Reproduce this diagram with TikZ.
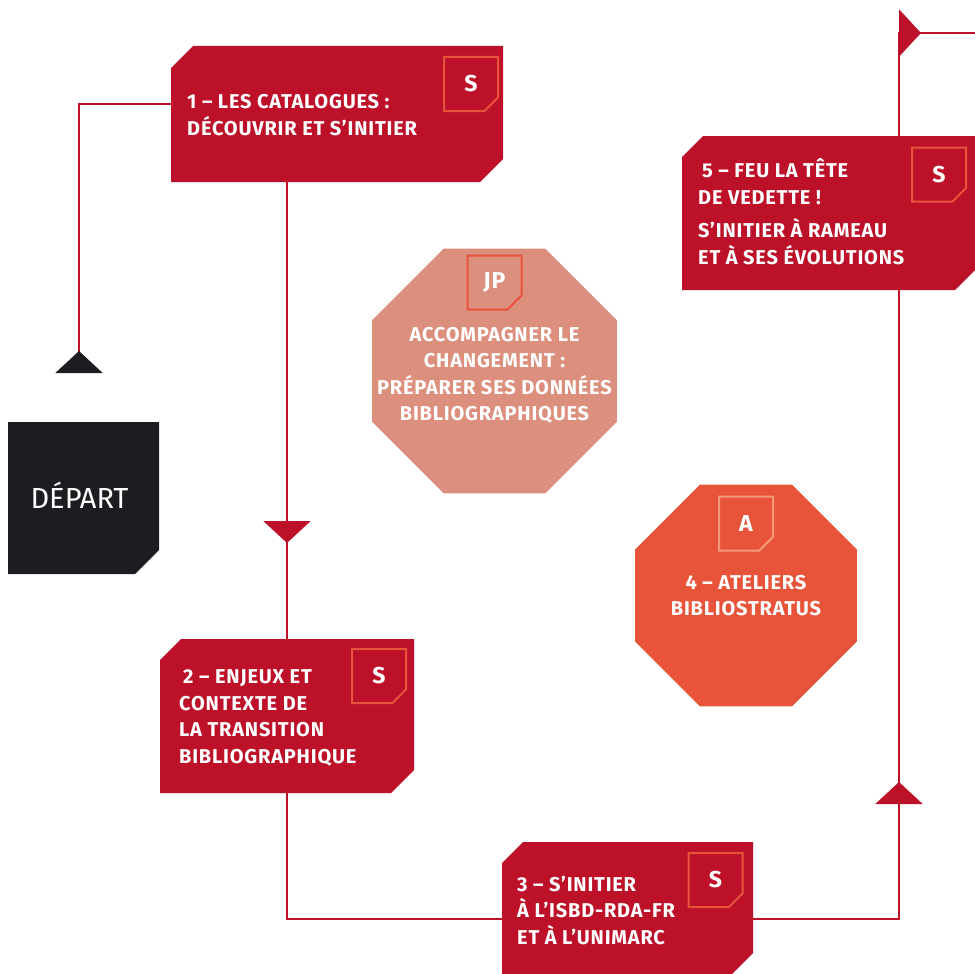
\documentclass[tikz,border=0pt]{standalone}
\usepackage{fontspec}
\setmainfont{Fira Sans}[BoldFeatures={LetterSpace=4}]
\usetikzlibrary{shapes.misc,shapes.geometric,arrows.meta,calc,positioning,decorations.markings,backgrounds}

\definecolor{brique}{HTML}{BC1128}
\definecolor{nuit}{HTML}{1D1C21}
\definecolor{saumon}{HTML}{DC8F7C}
\definecolor{corail}{HTML}{E8543A}
\definecolor{peche}{HTML}{F39A7B}

% pan coupe : noeud, couleur, coin haut gauche, coin bas droit
\newcommand\pan[4]{\fill[#2] ($(#1.north west)+(#3,0)$) -- (#1.north east) -- ($(#1.south east)+(0,-#4)$)
    -- ($(#1.south east)+(-#4,0)$) -- (#1.south west) -- ($(#1.north west)+(0,#3)$) -- cycle;}

\tikzset{
    bloc/.style={rectangle, inner sep=0pt, outer sep=0pt},
    octo/.style={regular polygon, regular polygon sides=8, inner sep=0pt, outer sep=0pt},
    insigne/.style={chamfered rectangle, chamfered rectangle corners=south east,
        chamfered rectangle xsep=7pt, chamfered rectangle ysep=7pt,
        draw=corail, line width=2pt, minimum width=54pt, minimum height=54pt, inner sep=0pt,
        text=white, font=\bfseries\fontsize{23}{23}\selectfont},
    titre/.style={text=white, align=left, inner sep=0pt, anchor=base west,
        font=\bfseries\fontsize{20}{26.5}\selectfont},
    titrec/.style={titre, align=center, anchor=base},
    lien/.style={draw=brique, line width=2pt},
    pointe/.tip={Triangle[width=47pt,length=22pt]}
}

\begin{document}
\begin{tikzpicture}[x=1pt,y=-1pt]
    \useasboundingbox (0,0) rectangle (975,974);

    % etapes
    \node[bloc, minimum width=332pt, minimum height=136pt] (cat) at (337,114) {};
    \pan{cat}{brique}{22}{23}
    \node[bloc, minimum width=254pt, minimum height=154pt] (enjeux) at (287,716) {};
    \pan{enjeux}{brique}{21}{23}
    \node[bloc, minimum width=251pt, minimum height=134pt] (isbd) at (627.5,909) {};
    \pan{isbd}{brique}{21}{23}
    \node[bloc, minimum width=296pt, minimum height=154pt] (rameau) at (830,213) {};
    \pan{rameau}{brique}{21}{23}
    \node[bloc, minimum width=151pt, minimum height=152pt] (depart) at (83.5,498) {};
    \pan{depart}{nuit}{0}{24}
    \node[octo, fill=saumon, minimum size=265pt] (jp) at (494.5,371) {};
    \node[octo, fill=corail, minimum size=240pt] (atelier) at (746,595.5) {};

    % insignes
    \node[insigne] (s1) at ($(cat.north east)+(-32,38)$) {S};
    \node[insigne] (s2) at ($(enjeux.north east)+(-35,37)$) {S};
    \node[insigne] (s3) at ($(isbd.north east)+(-37.5,38)$) {S};
    \node[insigne] (s5) at ($(rameau.north east)+(-39,38.5)$) {S};
    \node[insigne] (sjp) at ($(jp.north)+(0,34)$) {JP};
    \node[insigne, draw=peche] (sa) at ($(atelier.north)+(0,39)$) {A};

    % textes
    \node[titre] (t1) at ($(cat.north west)+(16,89)$) {1 – LES CATALOGUES :\\DÉCOUVRIR ET S’INITIER};
    \node[titre] (t2) at ($(enjeux.north west)+(19,124)$) {\hspace{4pt}2 – ENJEUX ET\\CONTEXTE DE\\LA TRANSITION\\BIBLIOGRAPHIQUE};
    \node[titre] (t3) at ($(isbd.north west)+(15,102)$) {3 – S’INITIER\\À L’ISBD-RDA-FR\\ET À L’UNIMARC};
    \node[titre] (t5) at ($(rameau.north west)+(16,128)$) {\hspace{4pt}5 – FEU LA TÊTE\\DE VEDETTE !\\[7pt]S’INITIER À RAMEAU\\ET À SES ÉVOLUTIONS};
    \node[titrec] (tjp) at ($(jp.north)+(0,172)$) {ACCOMPAGNER LE\\CHANGEMENT :\\PRÉPARER SES DONNÉES\\BIBLIOGRAPHIQUES};
    \node[titrec] (ta) at ($(atelier.north)+(0,131)$) {4 – ATELIERS\\BIBLIOSTRATUS};
    \node[text=white, inner sep=0pt, font=\fontsize{29}{29}\selectfont] (td) at ($(depart.center)+(-4,-3)$) {DÉPART};

    % parcours
    \coordinate (sortie) at (975,33);
    \begin{scope}[on background layer]
        \draw[lien, -{Triangle[width=47pt,length=22pt,reversed,color=nuit]}, shorten >=49pt] ([yshift=10pt]cat.west) -| ([xshift=-4.5pt]depart.north);
        \draw[lien, postaction={decorate}, decoration={markings,
            mark=at position 361pt with {\arrow{pointe}}}] ([xshift=-50pt]cat.south) -- (enjeux.north);
        \draw[lien] (enjeux.south) |- ([yshift=-10pt]isbd.west);
        \draw[lien, postaction={decorate}, decoration={markings,
            mark=at position 283pt with {\arrow{pointe}},
            mark=at position 1054pt with {\arrow{pointe}}}]
            ([yshift=-10pt]isbd.east) -| ([xshift=-76pt]sortie) -- (sortie);
    \end{scope}
\end{tikzpicture}
\end{document}
